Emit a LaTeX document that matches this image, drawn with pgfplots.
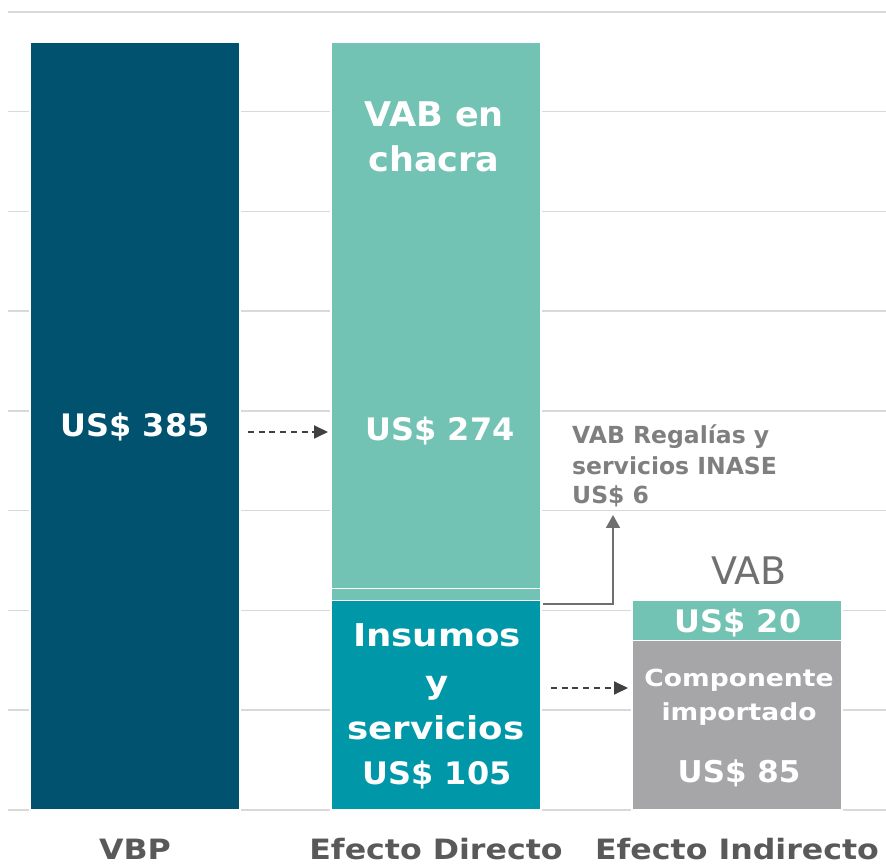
\documentclass[border=0pt]{standalone}
\usepackage{fontspec}
\setmainfont{DejaVu Sans}
\newfontfamily\fW{DejaVu Sans}[FakeStretch=1.13]
\newfontfamily\fN{DejaVu Sans}[FakeStretch=1.03]
\usepackage{pgfplots}
\pgfplotsset{compat=1.18}
\usetikzlibrary{arrows.meta}
\definecolor{cvbp}{HTML}{00526F}
\definecolor{cchacra}{HTML}{72C3B4}
\definecolor{cins}{HTML}{0098A8}
\definecolor{cimp}{HTML}{A6A6A8}
\definecolor{gridc}{HTML}{D9D9D9}
\definecolor{tickc}{HTML}{595959}
\definecolor{annc}{HTML}{7F7F7F}
\definecolor{vabc}{HTML}{707070}
\definecolor{darr}{HTML}{404040}
\definecolor{sarr}{HTML}{6F6F6F}
\begin{document}
\begin{tikzpicture}[x=1pt,y=1pt]
\path[use as bounding box] (0,0) rectangle (886,867);
\begin{axis}[
  at={(8pt,57pt)}, anchor=south west,
  scale only axis, width=878pt, height=802pt,
  xmin=-0.422, xmax=2.495, ymin=0, ymax=402,
  ybar stacked, bar width=210pt,
  ytick={0,50,...,400}, yticklabels={},
  ymajorgrids, grid style={color=gridc, line width=1.5pt},
  xtick={0,1,2}, xticklabels={VBP, Efecto Directo, Efecto Indirecto},
  xticklabel style={font=\fW\bfseries\fontsize{28}{31}\selectfont, text=tickc, anchor=base, yshift=-50pt},
  axis line style={draw=none}, major tick length=0pt,
  clip=false,
  every axis plot/.append style={draw=white, line width=1.5pt},
]
\addplot[fill=cvbp] coordinates {(0,385) (1,0) (2,0)};
\addplot[fill=cins] coordinates {(0,0) (1,105) (2,0)};
\addplot[fill=cimp] coordinates {(0,0) (1,0) (2,85)};
\addplot[fill=cchacra] coordinates {(0,0) (1,6) (2,20)};
\addplot[fill=cchacra] coordinates {(0,0) (1,274) (2,0)};
\end{axis}
% white labels in bars
\begin{scope}[every node/.style={anchor=base, text=white, inner sep=0pt, font=\bfseries}]
\node at (135,430) {\fN\bfseries\fontsize{31}{34}\selectfont US\$ 385};
\node at (440,426) {\fN\bfseries\fontsize{31}{34}\selectfont US\$ 274};
\node at (434,740) {\fN\bfseries\fontsize{34}{36}\selectfont VAB en};
\node at (434,695) {\fN\bfseries\fontsize{34}{36}\selectfont chacra};
\node at (437,220) {\fW\bfseries\fontsize{31.5}{34}\selectfont Insumos};
\node at (437,173) {\fW\bfseries\fontsize{31.5}{34}\selectfont y};
\node at (436,127) {\fW\bfseries\fontsize{31.5}{34}\selectfont servicios};
\node at (437,82) {\fN\bfseries\fontsize{31}{34}\selectfont US\$ 105};
\node at (739,180) {\fW\bfseries\fontsize{23.5}{26}\selectfont Componente};
\node at (739,146) {\fW\bfseries\fontsize{23.5}{26}\selectfont importado};
\node at (739,84) {\fN\bfseries\fontsize{30}{32}\selectfont US\$ 85};
\node at (738,234) {\fN\bfseries\fontsize{31}{34}\selectfont US\$ 20};
\end{scope}
\node[anchor=base, inner sep=0pt, text=vabc, font=\fontsize{38}{42}\selectfont] at (749,282) {VAB};
\begin{scope}[every node/.style={anchor=base west, inner sep=0pt, text=annc, font=\bfseries\fontsize{23.5}{26}\selectfont}]
\node at (572,423) {VAB Regalías y};
\node at (572,392) {servicios INASE};
\node at (572,363) {US\$ 6};
\end{scope}
% arrows
\draw[darr, line width=1.8pt, dash pattern=on 6pt off 4.7pt, -{Triangle[length=14pt,width=13pt]}] (248,435) -- (328,435);
\draw[darr, line width=1.8pt, dash pattern=on 6pt off 4.7pt, -{Triangle[length=14pt,width=13pt]}] (551,179) -- (628,179);
\draw[sarr, line width=1.8pt, -{Triangle[length=13pt,width=14pt]}] (543,263) -- (613,263) -- (613,352);
\end{tikzpicture}
\end{document}
